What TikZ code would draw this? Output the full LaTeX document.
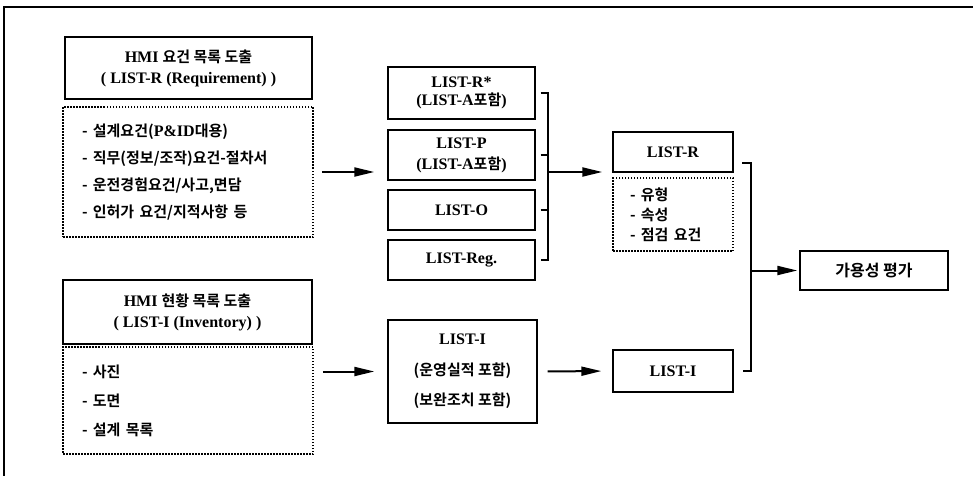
\documentclass[tikz,border=0pt]{standalone}
\usepackage{fontspec}
\setmainfont{Liberation Serif}[Scale=1.07]
\newfontfamily\kr{Noto Sans CJK KR}[BoldFont={Noto Sans CJK KR Bold}]
\newcommand\ko[1]{{\kr #1}}
\usetikzlibrary{arrows.meta}
\tikzset{
  box/.style={draw, line width=1.4pt, inner sep=0pt, align=center},
  dbox/.style={draw, line width=1.5pt, dash pattern=on 1.5pt off 1.5pt, inner ysep=0pt, align=left},
  arr/.style={line width=2pt, -{Triangle[length=20pt,width=9pt]}},
  brk/.style={line width=1.3pt},
  fs/.style={font=\bfseries\fontsize{15}{#1}\selectfont},
}
\begin{document}
\begin{tikzpicture}[x=1pt,y=-1pt]
\useasboundingbox (0,0) rectangle (973,476);
\draw[line width=2pt] (973,7) -- (4,7) -- (4,476);

% left column
\node[box, fs=21, minimum width=247pt, minimum height=62pt] (A) at (188.5,68)
  {HMI \ko{요건 목록 도출}\\( LIST-R (Requirement) )};
\node[dbox, fs=27, inner xsep=19pt, text width=212pt, minimum width=250pt, minimum height=130pt] (dA) at (188,172)
  {\ko{- 설계요건(}P\&ID\ko{대용)}\\\ko{- 직무(정보/조작)요건-절차서}\\\ko{- 운전경험요건/사고,면담}\\\ko{- 인허가 요건/지적사항 등}};
\node[box, fs=21, minimum width=249pt, minimum height=64pt] (B) at (187.5,312)
  {HMI \ko{현황 목록 도출}\\( LIST-I (Inventory) )};
\node[dbox, fs=29, inner xsep=19pt, text width=212pt, minimum width=250pt, minimum height=107pt] (dB) at (188,400.5)
  {\ko{- 사진}\\\ko{- 도면}\\\ko{- 설계 목록}};

% middle column
\node[box, fs=18, minimum width=147pt, minimum height=52pt] (Rs) at (461.5,93)
  {LIST-R*\\(LIST-A\ko{포함})};
\node[box, fs=21, minimum width=147pt, minimum height=50pt] (P) at (461.5,155)
  {LIST-P\\(LIST-A\ko{포함})};
\node[box, fs=18, minimum width=147pt, minimum height=40pt] (O) at (461.5,210) {LIST-O};
\node[box, fs=18, minimum width=147pt, minimum height=40pt] (Reg) at (461.5,260) {LIST-Reg.};
\node[box, fs=30.5, minimum width=149pt, minimum height=103pt] (I) at (462.5,371.5)
  {LIST-I\\\ko{(운영실적 포함)}\\\ko{(보완조치 포함)}};

% right column
\node[box, fs=18, minimum width=120pt, minimum height=40pt] (LR) at (673,152) {LIST-R};
\node[dbox, fs=20, inner xsep=17pt, text width=86pt, minimum width=120pt, minimum height=73pt] (dLR) at (673,214.5)
  {\ko{- 유형}\\\ko{- 속성}\\\ko{- 점검 요건}};
\node[box, fs=18, minimum width=120pt, minimum height=42pt] (LI) at (673,371) {LIST-I};
\node[box, font=\bfseries\fontsize{16}{18}\selectfont, minimum width=148pt, minimum height=39pt] (E) at (874,270.5)
  {\ko{가용성 평가}};

% arrows from left column
\draw[arr, shorten <=8pt, shorten >=13pt] (dA.east) -- (dA.east -| Rs.west);
\draw[arr, shorten <=9pt, shorten >=13pt] (I.west -| dB.east) -- (I.west);

% first bracket
\coordinate (b1) at (548,172);
\draw[brk] ([xshift=5pt]Rs.east) -| (b1) |- ([xshift=5pt]Reg.east);
\draw[brk] ([xshift=5pt]P.east) -- (P.east -| b1);
\draw[brk] ([xshift=5pt]O.east) -- (O.east -| b1);
\draw[arr, shorten >=10pt] (b1) -- (b1 -| LR.west);

\draw[arr, shorten <=10pt, shorten >=11pt] (I.east) -- (LI.west);

% second bracket
\coordinate (t1) at (742,163);
\coordinate (b2) at (751,270.5);
\draw[brk] (t1) -| (b2) |- ([xshift=9pt]LI.east);
\draw[arr, shorten >=2pt] (b2) -- (E.west);
\end{tikzpicture}
\end{document}
